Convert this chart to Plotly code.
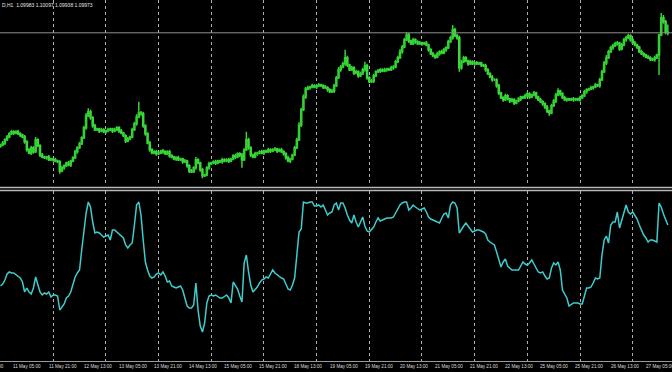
import plotly.graph_objects as go

# ---------------- data (EURUSD H1) ----------------
header_text = "D,H1  1.09983 1.10097 1.09938 1.09973"
first_open = 1.0827

bar_close = [
    1.0829, 1.0832, 1.0837, 1.0841, 1.0846, 1.0849, 1.0847, 1.0849, 1.0846, 1.0844,
    1.0841, 1.0834, 1.0822, 1.0817, 1.0825, 1.0819, 1.0837, 1.0828, 1.0814, 1.0811,
    1.0810, 1.0811, 1.0807, 1.0808, 1.0807, 1.0805, 1.0804, 1.0790, 1.0795, 1.0798,
    1.0802, 1.0799, 1.0805, 1.0810, 1.0819, 1.0825, 1.0831, 1.0840, 1.0855, 1.0873,
    1.0879, 1.0870, 1.0858, 1.0852, 1.0853, 1.0850, 1.0852, 1.0849, 1.0850, 1.0852,
    1.0853, 1.0850, 1.0852, 1.0855, 1.0850, 1.0847, 1.0843, 1.0835, 1.0838, 1.0841,
    1.0852, 1.0861, 1.0871, 1.0877, 1.0876, 1.0858, 1.0846, 1.0832, 1.0822, 1.0817,
    1.0819, 1.0816, 1.0817, 1.0820, 1.0819, 1.0816, 1.0819, 1.0813, 1.0811, 1.0808,
    1.0810, 1.0807, 1.0808, 1.0804, 1.0805, 1.0798, 1.0790, 1.0789, 1.0795, 1.0807,
    1.0802, 1.0792, 1.0783, 1.0784, 1.0795, 1.0801, 1.0802, 1.0804, 1.0802, 1.0805,
    1.0804, 1.0807, 1.0805, 1.0807, 1.0805, 1.0808, 1.0813, 1.0811, 1.0816, 1.0814,
    1.0807, 1.0822, 1.0837, 1.0825, 1.0814, 1.0811, 1.0816, 1.0817, 1.0819, 1.0817,
    1.0820, 1.0819, 1.0822, 1.0820, 1.0822, 1.0823, 1.0820, 1.0822, 1.0819, 1.0816,
    1.0810, 1.0805, 1.0808, 1.0814, 1.0825, 1.0837, 1.0859, 1.0882, 1.0901, 1.0913,
    1.0915, 1.0916, 1.0918, 1.0916, 1.0918, 1.0919, 1.0918, 1.0916, 1.0915, 1.0912,
    1.0909, 1.0910, 1.0918, 1.0930, 1.0942, 1.0946, 1.0951, 1.0960, 1.0949, 1.0942,
    1.0945, 1.0937, 1.0939, 1.0933, 1.0936, 1.0942, 1.0948, 1.0930, 1.0924, 1.0925,
    1.0933, 1.0939, 1.0940, 1.0942, 1.0940, 1.0942, 1.0943, 1.0942, 1.0945, 1.0946,
    1.0954, 1.0960, 1.0969, 1.0976, 1.0987, 1.0994, 1.0985, 1.0981, 1.0987, 1.0984,
    1.0981, 1.0982, 1.0981, 1.0982, 1.0979, 1.0972, 1.0966, 1.0963, 1.0961, 1.0966,
    1.0969, 1.0967, 1.0972, 1.0975, 1.0984, 1.0990, 1.1002, 1.0993, 1.0990, 1.0945,
    1.0954, 1.0960, 1.0955, 1.0951, 1.0954, 1.0951, 1.0952, 1.0951, 1.0952, 1.0949,
    1.0948, 1.0942, 1.0936, 1.0931, 1.0927, 1.0927, 1.0918, 1.0907, 1.0900, 1.0897,
    1.0903, 1.0898, 1.0895, 1.0897, 1.0892, 1.0895, 1.0898, 1.0901, 1.0900, 1.0903,
    1.0906, 1.0901, 1.0904, 1.0907, 1.0901, 1.0897, 1.0894, 1.0891, 1.0886, 1.0880,
    1.0877, 1.0888, 1.0895, 1.0904, 1.0910, 1.0906, 1.0900, 1.0897, 1.0898, 1.0897,
    1.0898, 1.0897, 1.0898, 1.0897, 1.0900, 1.0903, 1.0909, 1.0912, 1.0913, 1.0915,
    1.0916, 1.0919, 1.0918, 1.0927, 1.0939, 1.0952, 1.0960, 1.0969, 1.0975, 1.0978,
    1.0981, 1.0982, 1.0973, 1.0979, 1.0987, 1.0990, 1.0993, 1.0987, 1.0982, 1.0979,
    1.0976, 1.0969, 1.0966, 1.0964, 1.0961, 1.0960, 1.0958, 1.0957, 1.0960, 1.0964,
    1.0994, 1.1020, 1.1014, 1.09983, 1.09973,
]

# wick lengths (pips) above the body and below the body of each candle
wick_up_pips = [
    2, 3, 2, 3, 2, 3, 2, 2, 3, 2, 2, 3, 2, 2, 3, 2, 4, 2, 2, 3,
    2, 2, 3, 2, 2, 3, 2, 2, 3, 2, 2, 3, 2, 2, 3, 2, 3, 2, 3, 4,
    5, 3, 2, 3, 2, 2, 3, 2, 2, 3, 2, 2, 3, 2, 2, 3, 2, 2, 3, 2,
    3, 3, 4, 17, 3, 3, 2, 2, 3, 2, 2, 3, 2, 2, 3, 2, 2, 3, 2, 2,
    2, 3, 2, 2, 3, 2, 2, 3, 2, 4, 2, 2, 3, 2, 2, 3, 2, 2, 3, 2,
    2, 3, 2, 2, 3, 2, 2, 3, 2, 2, 3, 2, 12, 3, 2, 2, 3, 2, 2, 3,
    2, 2, 3, 2, 2, 3, 2, 2, 3, 2, 2, 3, 2, 2, 3, 3, 4, 3, 4, 3,
    3, 2, 3, 2, 2, 3, 2, 2, 3, 2, 2, 3, 3, 3, 4, 3, 3, 12, 3, 2,
    3, 2, 3, 2, 3, 3, 6, 3, 2, 3, 3, 2, 3, 2, 2, 3, 2, 2, 3, 3,
    3, 3, 4, 3, 3, 4, 3, 2, 3, 2, 2, 3, 2, 2, 3, 2, 2, 3, 2, 3,
    2, 3, 3, 2, 3, 3, 7, 3, 3, 3, 3, 3, 2, 2, 3, 2, 2, 3, 2, 2,
    2, 3, 2, 2, 3, 2, 2, 3, 2, 2, 3, 2, 2, 3, 2, 2, 3, 2, 2, 3,
    3, 2, 2, 3, 2, 2, 3, 2, 2, 3, 2, 3, 3, 3, 4, 2, 2, 3, 2, 2,
    2, 3, 2, 2, 3, 2, 3, 2, 2, 3, 2, 3, 2, 3, 3, 3, 4, 3, 3, 3,
    3, 3, 2, 3, 3, 3, 3, 2, 2, 3, 2, 2, 3, 2, 2, 3, 2, 2, 3, 2,
    2, 7, 4, 3, 11.4,
]
wick_down_pips = [
    2, 2, 3, 2, 2, 2, 3, 2, 2, 3, 2, 3, 3, 2, 3, 3, 2, 2, 3, 2,
    2, 3, 2, 2, 3, 2, 2, 4, 2, 3, 2, 2, 3, 2, 2, 3, 2, 2, 2, 3,
    2, 3, 3, 2, 2, 3, 2, 2, 3, 2, 2, 3, 2, 2, 3, 2, 2, 3, 2, 2,
    2, 2, 3, 2, 3, 3, 3, 2, 3, 2, 2, 3, 2, 2, 3, 2, 2, 3, 2, 2,
    3, 2, 2, 3, 2, 3, 3, 2, 2, 3, 2, 3, 4, 2, 2, 3, 2, 2, 3, 2,
    2, 3, 2, 2, 3, 2, 2, 3, 2, 3, 12, 2, 2, 3, 3, 2, 2, 3, 2, 2,
    3, 2, 2, 3, 2, 2, 3, 2, 2, 3, 3, 2, 3, 2, 2, 2, 2, 3, 2, 3,
    2, 3, 2, 2, 3, 2, 2, 3, 2, 3, 2, 2, 3, 2, 2, 3, 2, 3, 3, 2,
    2, 3, 2, 3, 2, 2, 3, 3, 2, 2, 3, 2, 2, 3, 2, 2, 3, 2, 2, 3,
    2, 2, 2, 3, 2, 2, 3, 2, 2, 3, 2, 2, 3, 2, 2, 3, 2, 2, 3, 2,
    3, 2, 2, 3, 2, 2, 3, 2, 3, 6, 3, 2, 2, 3, 2, 2, 3, 2, 2, 3,
    2, 3, 2, 2, 3, 2, 3, 3, 2, 3, 2, 2, 3, 2, 3, 2, 2, 3, 2, 2,
    2, 3, 2, 2, 3, 2, 2, 3, 3, 3, 4, 2, 2, 3, 2, 3, 2, 2, 3, 2,
    2, 3, 2, 2, 3, 2, 2, 3, 2, 2, 3, 2, 2, 3, 2, 2, 3, 2, 2, 3,
    2, 3, 3, 2, 2, 3, 2, 3, 2, 2, 3, 2, 2, 3, 2, 2, 3, 2, 3, 2,
    30, 2, 3, 3, 3.5,
]

# lower-panel oscillator (one value per bar)
indicator = [
    45.0, 46.2, 48.6, 52.2, 53.4, 52.8, 52.8, 51.6, 51.0, 49.8,
    47.4, 41.4, 43.8, 41.4, 40.2, 43.8, 50.4, 45.6, 41.4, 39.6,
    40.8, 40.2, 41.4, 38.4, 39.6, 39.6, 39.0, 30.6, 32.4, 34.2,
    37.8, 39.0, 41.4, 46.8, 50.4, 52.8, 54.6, 66.6, 78.6, 88.8,
    95.4, 92.4, 83.4, 76.8, 77.4, 76.8, 75.6, 74.4, 75.0, 75.6,
    72.6, 78.6, 78.6, 77.4, 76.8, 75.6, 73.8, 69.6, 67.8, 69.6,
    70.8, 81.6, 93.6, 95.4, 87.6, 72.6, 59.4, 54.6, 51.0, 49.8,
    50.4, 52.2, 52.8, 51.6, 53.4, 51.0, 47.4, 48.0, 45.0, 44.4,
    43.8, 44.4, 45.0, 42.6, 38.4, 33.0, 31.8, 31.8, 33.6, 46.8,
    30.6, 21.0, 17.4, 22.8, 34.8, 39.0, 39.6, 39.0, 39.6, 38.4,
    37.8, 37.8, 39.0, 39.6, 37.8, 34.8, 47.4, 45.6, 43.2, 39.0,
    35.4, 58.8, 63.6, 53.4, 45.6, 41.4, 42.6, 44.4, 46.8, 48.6,
    49.2, 50.4, 49.8, 52.2, 54.6, 52.8, 51.6, 51.0, 49.8, 49.2,
    45.6, 43.2, 42.6, 45.6, 49.8, 63.6, 77.4, 79.2, 95.4, 94.8,
    94.8, 95.4, 95.4, 93.0, 93.0, 93.6, 92.4, 93.6, 90.6, 87.6,
    88.8, 89.4, 93.6, 94.8, 90.6, 94.8, 94.8, 91.8, 87.6, 84.6,
    82.8, 87.6, 83.4, 80.4, 83.4, 86.4, 81.0, 78.0, 77.4, 78.6,
    80.4, 83.4, 85.8, 84.0, 84.6, 85.2, 85.8, 85.8, 85.8, 86.4,
    88.8, 90.6, 93.6, 94.8, 95.4, 95.4, 90.6, 91.8, 93.6, 92.4,
    91.2, 90.6, 91.2, 91.8, 89.4, 86.4, 85.2, 84.6, 84.0, 83.4,
    82.8, 85.8, 88.2, 88.8, 85.8, 93.6, 95.4, 94.8, 91.8, 76.8,
    79.2, 81.0, 82.8, 81.0, 79.2, 77.4, 78.0, 78.6, 78.6, 78.0,
    77.4, 76.2, 72.6, 71.4, 70.2, 69.6, 65.4, 60.0, 56.4, 59.4,
    61.2, 57.0, 55.8, 54.6, 54.6, 54.6, 54.6, 57.0, 59.4, 58.2,
    57.6, 58.8, 60.6, 58.2, 55.8, 53.4, 52.8, 53.4, 51.0, 49.2,
    49.8, 55.8, 58.8, 57.6, 59.4, 54.6, 42.6, 40.2, 37.8, 33.0,
    34.2, 34.8, 34.8, 34.8, 34.2, 34.2, 39.0, 43.8, 43.8, 44.4,
    46.8, 49.8, 49.2, 49.8, 63.6, 72.6, 75.0, 70.8, 81.6, 83.4,
    83.4, 89.4, 79.8, 84.6, 88.2, 93.6, 89.4, 88.2, 89.4, 87.6,
    85.2, 81.6, 78.0, 75.6, 73.8, 71.4, 72.6, 72.6, 72.0, 71.4,
    94.8, 92.4, 88.2, 85.2, 81.6,
]

# bar index of each day start (11 May 00:00 ... 27 May 00:00)
day_start_bars = [0, 24, 48, 72, 96, 120, 144, 168, 192, 216, 240, 264, 288]

# time-axis labels and the bar they belong to
label_bars = [-11, 5, 21, 37, 53, 69, 85, 101, 117, 133, 149, 165, 181, 197,
              213, 229, 245, 261, 277, 293]
label_text = ["8 May 13:00", "11 May 05:00", "11 May 21:00", "12 May 13:00",
              "13 May 05:00", "13 May 21:00", "14 May 13:00", "15 May 05:00",
              "15 May 21:00", "18 May 13:00", "19 May 05:00", "19 May 21:00",
              "20 May 13:00", "21 May 05:00", "21 May 21:00", "22 May 13:00",
              "25 May 05:00", "25 May 21:00", "26 May 13:00", "27 May 05:00"]

# ---------------- derived OHLC ----------------
n = len(bar_close)
bars = list(range(n))
bar_open = [first_open] + bar_close[:-1]
bar_high = [max(o, c) + u * 1e-4 for o, c, u in zip(bar_open, bar_close, wick_up_pips)]
bar_low = [min(o, c) - d * 1e-4 for o, c, d in zip(bar_open, bar_close, wick_down_pips)]

# ---------------- layout constants ----------------
W, H = 672, 372
X_RANGE = [-0.228, 305.9]
PRICE_RANGE = [1.07675, 1.10465]
IND_RANGE = [0, 102]
TOP_DOMAIN = [186 / H, 1.0]
BOT_DOMAIN = [11 / H, 181 / H]
GRID = "#b0b0b0"
FONT = "Liberation Sans, Arial, sans-serif"

fig = go.Figure()

fig.add_trace(go.Candlestick(
    x=bars, open=bar_open, high=bar_high, low=bar_low, close=bar_close,
    xaxis="x", yaxis="y",
    increasing=dict(line=dict(color="#33d233", width=1.5), fillcolor="#22a822"),
    decreasing=dict(line=dict(color="#3ad83a", width=1.5), fillcolor="#b9eeb9"),
    whiskerwidth=0, hoverinfo="skip", showlegend=False,
))

fig.add_trace(go.Scatter(
    x=bars, y=indicator, xaxis="x", yaxis="y2", mode="lines",
    line=dict(color="#3fcccc", width=1.5), hoverinfo="skip", showlegend=False,
))

shapes = [
    # bid line at last close
    dict(type="line", xref="paper", x0=0, x1=1, yref="y",
         y0=bar_close[-1], y1=bar_close[-1], line=dict(color="#8f8f8f", width=1)),
    # panel separator (double line)
    dict(type="line", xref="paper", x0=0, x1=1, yref="paper",
         y0=(H - 187.5) / H, y1=(H - 187.5) / H, line=dict(color="#b8b8b8", width=1.3)),
    dict(type="line", xref="paper", x0=0, x1=1, yref="paper",
         y0=(H - 190.5) / H, y1=(H - 190.5) / H, line=dict(color="#b8b8b8", width=1.3)),
]

annotations = [
    dict(text=header_text, xref="paper", yref="paper", x=0.0, y=(H - 5) / H,
         xanchor="left", yanchor="middle", showarrow=False,
         font=dict(family=FONT, size=5, color="#e6e6e6")),
]
span = X_RANGE[1] - X_RANGE[0]
for b, t in zip(label_bars, label_text):
    annotations.append(dict(
        text=t, xref="paper", yref="paper", x=(b - X_RANGE[0]) / span, y=(H - 366) / H,
        xanchor="left", yanchor="middle", showarrow=False,
        font=dict(family=FONT, size=4.6, color="#dcdcdc")))

fig.update_layout(
    width=W, height=H, autosize=False,
    margin=dict(l=0, r=0, t=0, b=0, pad=0),
    paper_bgcolor="black", plot_bgcolor="black",
    showlegend=False,
    xaxis=dict(range=X_RANGE, anchor="y2", tickmode="array", tickvals=day_start_bars,
               showticklabels=False, ticks="", showgrid=True, gridcolor=GRID,
               gridwidth=1, griddash="dot", zeroline=False,
               showline=True, linecolor="#9a9a9a", linewidth=1,
               rangeslider=dict(visible=False), fixedrange=True),
    yaxis=dict(domain=TOP_DOMAIN, range=PRICE_RANGE, showgrid=False, zeroline=False,
               showticklabels=False, ticks="", fixedrange=True),
    yaxis2=dict(domain=BOT_DOMAIN, range=IND_RANGE, showgrid=False, zeroline=False,
                showticklabels=False, ticks="", fixedrange=True),
    shapes=shapes,
    annotations=annotations,
)

fig.write_html("out.html")
